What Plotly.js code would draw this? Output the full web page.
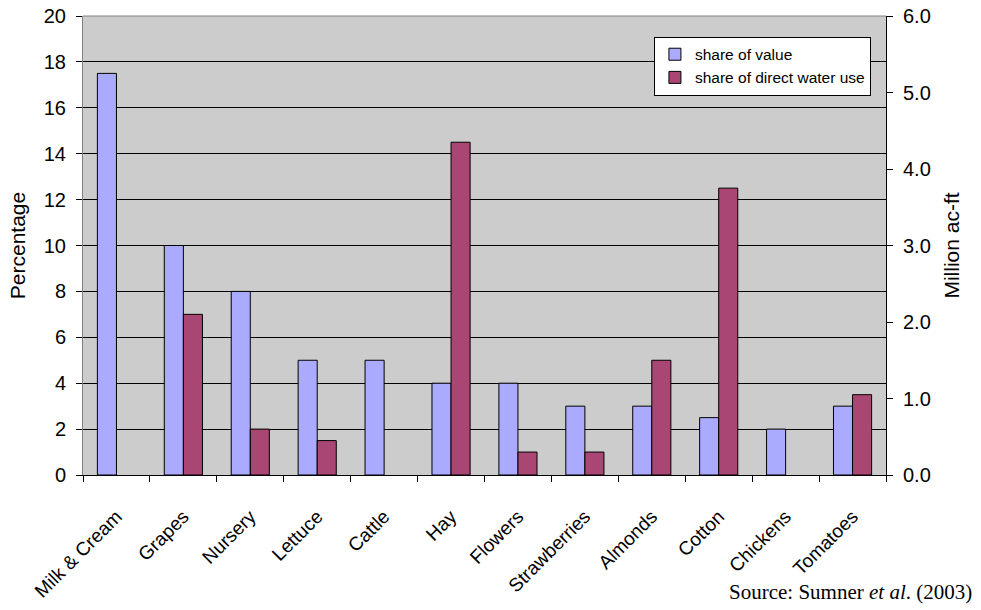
<!DOCTYPE html>
<html><head><meta charset="utf-8">
<script src="https://cdn.plot.ly/plotly-3.0.1.min.js"></script>
<style>body{margin:0;background:#fff}#c{width:981px;height:610px}</style>
</head><body><div id="c"></div>
<script>
const categories = ["Milk & Cream","Grapes","Nursery","Lettuce","Cattle","Hay","Flowers","Strawberries","Almonds","Cotton","Chickens","Tomatoes"];
const shareOfValue = [17.5,10,8,5,5,4,4,3,3,2.5,2,3];
// direct water use, million ac-ft (right axis)
const waterUse = [null,2.1,0.6,0.45,null,4.35,0.3,0.3,1.5,3.75,null,1.05];
const leftTicks = [0,2,4,6,8,10,12,14,16,18,20];
const rightTicks = [0,1,2,3,4,5,6];

const fnt = "Liberation Sans, Arial, sans-serif";
const traces = [
  {type:"bar", name:"share of value", x:categories, y:shareOfValue, yaxis:"y", offsetgroup:"a",
   marker:{color:"#aaaaff", line:{color:"#000", width:1}}},
  {type:"bar", name:"share of direct water use", x:categories, y:waterUse, yaxis:"y2", offsetgroup:"b",
   marker:{color:"#aa4673", line:{color:"#000", width:1}}}
];
const layout = {
  width:981, height:610,
  margin:{l:83, r:95, t:16, b:135},
  paper_bgcolor:"#fff", plot_bgcolor:"#cccccc",
  barmode:"group", bargap:0.43, bargroupgap:0,
  font:{family:fnt, color:"#000"},
  showlegend:true,
  legend:{x:0.711, y:0.955, xanchor:"left", yanchor:"top", bgcolor:"#fff", bordercolor:"#000", borderwidth:1,
    font:{size:15.5, family:fnt}, traceorder:"normal", itemwidth:30, tracegroupgap:8},
  xaxis:{type:"category", tickangle:-45, tickfont:{size:19, family:fnt}, ticks:"outside", ticklen:6,
    ticklabelstandoff:22,
    tickson:"boundaries", tickcolor:"#000", showline:true, linecolor:"#000", linewidth:1, showgrid:false, fixedrange:true},
  yaxis:{range:[0,20], tickvals:leftTicks, ticktext:leftTicks.map(String), tickfont:{size:20, family:fnt},
    ticks:"outside", ticklen:6, tickcolor:"#000", showline:true, linecolor:"#808080", linewidth:1,
    showgrid:true, gridcolor:"#000", gridwidth:1, zeroline:false, ticklabelstandoff:6,
    title:{text:"Percentage", font:{size:21, family:fnt}, standoff:12}},
  yaxis2:{range:[0,6], overlaying:"y", side:"right", tickvals:rightTicks, ticktext:rightTicks.map(v=>v.toFixed(1)),
    tickfont:{size:20, family:fnt}, ticks:"outside", ticklen:6, tickcolor:"#000", showline:true, linecolor:"#000",
    showgrid:false, zeroline:false, ticklabelstandoff:6,
    title:{text:"Million ac-ft", font:{size:21, family:fnt}, standoff:14}},
  shapes:[{type:"line", xref:"paper", yref:"paper", x0:0, x1:1, y0:1, y1:1, line:{color:"#808080", width:1}}],
  annotations:[{xref:"paper", yref:"paper", x:1.11, y:-0.285, xanchor:"right", yanchor:"bottom", showarrow:false,
    text:"Source: Sumner <i>et al</i>. (2003)", font:{family:"Liberation Serif, Times New Roman, serif", size:21}}]
};
Plotly.newPlot("c", traces, layout, {displayModeBar:false, staticPlot:true});
</script></body></html>
